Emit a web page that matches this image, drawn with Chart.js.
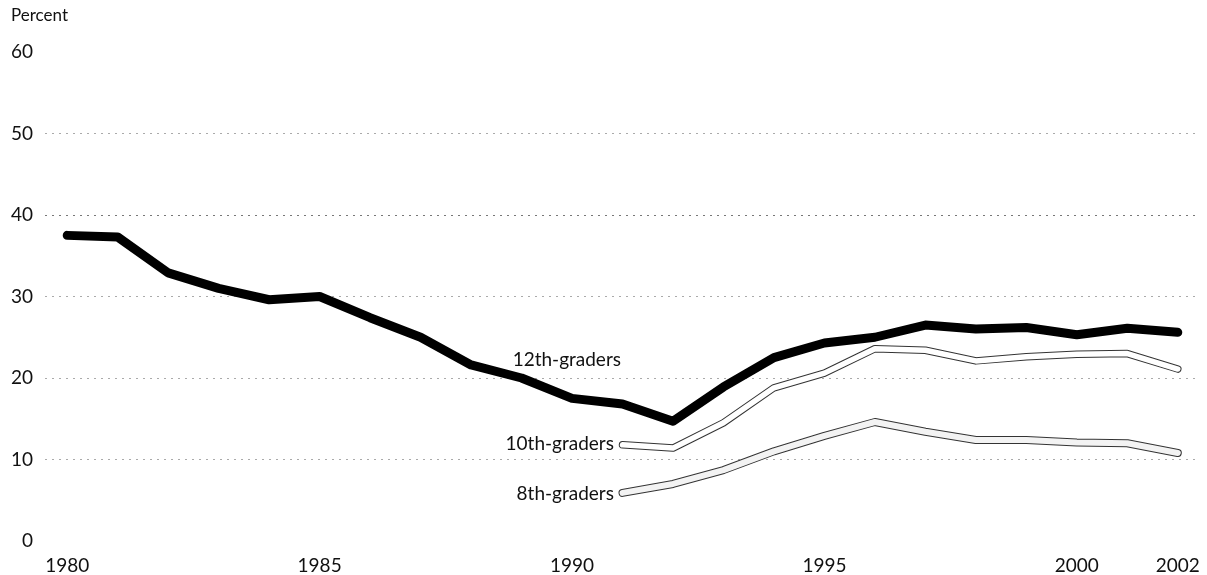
<!DOCTYPE html>
<html>
<head>
<meta charset="utf-8">
<script src="https://cdn.jsdelivr.net/npm/chart.js@4/dist/chart.umd.min.js"></script>
<style>
  html, body { margin: 0; padding: 0; background: #fff; }
  #wrap { position: relative; width: 1207px; height: 575px; }
  #unit { position: absolute; left: 11px; top: 4px; font: 17px Lato, "Open Sans", sans-serif; color: #111; }
  canvas { display: block; }
</style>
</head>
<body>
<div id="wrap">
  <div id="unit">Percent</div>
  <canvas id="c" width="1207" height="575"></canvas>
</div>
<script>
// Years and percentages for each grade
const years12 = [1980,1981,1982,1983,1984,1985,1986,1987,1988,1989,1990,1991,1992,1993,1994,1995,1996,1997,1998,1999,2000,2001,2002];
const grade12 = [37.5,37.3,32.9,31.0,29.6,30.0,27.4,25.0,21.6,20.0,17.5,16.8,14.7,18.9,22.5,24.3,25.0,26.5,26.0,26.2,25.3,26.1,25.6];
const yearsLower = [1991,1992,1993,1994,1995,1996,1997,1998,1999,2000,2001,2002];
const grade10 = [11.8,11.4,14.5,18.8,20.6,23.6,23.4,22.1,22.6,22.9,23.0,21.1];
const grade8 = [5.9,7.0,8.7,11.0,12.9,14.6,13.4,12.4,12.4,12.1,12.0,10.8];
const xTicks = [1980,1985,1990,1995,2000,2002];
const yTicks = [0,10,20,30,40,50,60];

// Series names drawn beside the lines: [text, year anchor (right edge), value]
const seriesLabels = [
  ['12th-graders', 1990.97, 22.2],
  ['10th-graders', 1990.83, 11.9],
  ['8th-graders', 1990.83, 5.8]
];

const pts = (xs, ys) => xs.map((x, i) => ({ x: x, y: ys[i] }));
const FONT = 'Lato, "Open Sans", sans-serif';

const labelPlugin = {
  id: 'seriesLabels',
  afterDatasetsDraw(chart) {
    const { ctx, scales } = chart;
    ctx.save();
    ctx.font = '19px ' + FONT;
    ctx.fillStyle = '#111';
    ctx.textAlign = 'right';
    ctx.textBaseline = 'middle';
    seriesLabels.forEach(([t, x, y]) => {
      ctx.fillText(t, scales.x.getPixelForValue(x), scales.y.getPixelForValue(y));
    });
    ctx.restore();
  }
};

new Chart(document.getElementById('c'), {
  type: 'line',
  data: {
    datasets: [
      { data: pts(years12, grade12), borderColor: '#000', borderWidth: 9, order: 0 },
      { data: pts(yearsLower, grade10), borderColor: '#fff', borderWidth: 5.5, order: 1 },
      { data: pts(yearsLower, grade8), borderColor: '#f3f3f3', borderWidth: 6, order: 1 },
      { data: pts(yearsLower, grade10), borderColor: '#333', borderWidth: 7.5, order: 2 },
      { data: pts(yearsLower, grade8), borderColor: '#333', borderWidth: 8, order: 2 }
    ].map(d => Object.assign(d, {
      pointRadius: 0, tension: 0, fill: false,
      borderCapStyle: 'round', borderJoinStyle: 'round'
    }))
  },
  options: {
    responsive: false,
    animation: false,
    layout: { padding: { left: 0, right: 7, top: 52, bottom: 0 } },
    plugins: { legend: { display: false }, tooltip: { enabled: false } },
    scales: {
      x: {
        type: 'linear', min: 1979.56, max: 2002.44,
        afterBuildTicks: s => { s.ticks = xTicks.map(v => ({ value: v })); },
        afterFit: s => { s.height = 34; },
        grid: { display: false },
        border: { display: false },
        ticks: {
          color: '#111', font: { size: 19, family: FONT }, padding: 5,
          maxRotation: 0, autoSkip: false,
          callback: v => String(v)
        }
      },
      y: {
        min: 0, max: 60,
        afterBuildTicks: s => { s.ticks = yTicks.map(v => ({ value: v })); },
        afterFit: s => { s.width = 45; },
        grid: {
          drawTicks: false,
          color: c => (c.tick.value === 0 || c.tick.value === 60) ? 'rgba(0,0,0,0)' : (c.tick.value === 40 ? '#777' : '#aaa'),
          lineWidth: 1
        },
        border: { display: false, dash: [2, 5] },
        ticks: { color: '#111', font: { size: 19, family: FONT }, padding: 12 }
      }
    }
  },
  plugins: [labelPlugin]
});
</script>
</body>
</html>
